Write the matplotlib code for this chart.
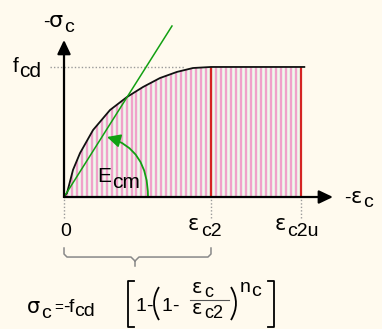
import matplotlib
matplotlib.use('Agg')
import matplotlib.pyplot as plt
import numpy as np
from matplotlib.path import Path
from matplotlib.patches import PathPatch, FancyArrowPatch, Polygon

# ---- data (strain in per mille, stress normalised to fcd) ----
eps_c2 = 2.0
eps_c2u = 3.22
fcd = 1.0
curve_eps = [0.0, 0.041, 0.122, 0.218, 0.395, 0.626, 0.857, 1.075, 1.306, 1.537, 1.755, 2.0]
curve_sig = [0.0, 0.031, 0.208, 0.338, 0.515, 0.669, 0.769, 0.846, 0.915, 0.962, 0.992, 1.0]
ecm_eps = [0.0, 1.469]
ecm_sig = [0.0, 1.315]
tick_pos = [0.0, eps_c2, eps_c2u]

FONT = ['Liberation Sans', 'DejaVu Sans']
GREEK = ['DejaVu Sans']
BG = '#fffaee'
GREEN = '#12a012'
RED = '#d42323'

fig = plt.figure(figsize=(3.82, 3.29), dpi=100, facecolor=BG)
ax = fig.add_axes([0, 0, 1, 1])
ax.set_facecolor(BG)
ax.set_xlim(-0.871, 4.327)
ax.set_ylim(-1.015, 1.515)
ax.axis('off')

def P(px, py):
    return ((px - 64) / 73.5, (197 - py) / 130)

def txt(px, py, s, size=14, family=FONT, **kw):
    x, y = P(px, py)
    return ax.text(x, y, s, fontsize=size, ha='left', va='baseline', family=family, color='black', **kw)

def lab(px, py, main, sub, size=14, msize=None, mfam=FONT, drop=5, gap=0.5):
    t = txt(px, py, main, size=msize or size, family=mfam)
    ax.annotate(sub, xy=(1, 0), xycoords=t, xytext=(gap, -drop * 0.72), textcoords='offset points',
                fontsize=size, family=FONT, ha='left', va='bottom', color='black')
    return t

def seg(pts, **kw):
    xs, ys = zip(*[P(*p) for p in pts])
    ax.plot(xs, ys, **kw)

# ---- hatched area under the curve ----
poly_x = curve_eps + [eps_c2u, eps_c2u]
poly_y = curve_sig + [fcd, 0.0]
poly = Polygon(np.column_stack([poly_x, poly_y]), closed=True, facecolor='#eef9ec', edgecolor='none', zorder=1)
ax.add_patch(poly)
step = 5 / 73.5
stripes = ax.vlines(np.arange(step * 0.5, eps_c2u, step), 0, fcd, color='#f0a2ca', lw=1.7, zorder=2)
stripes.set_clip_path(poly)

# red verticals
ax.vlines([eps_c2, eps_c2u], 0, fcd, color=RED, lw=1.6, zorder=3)

# guide dotted lines
ax.plot([P(50, 0)[0], P(185, 0)[0]], [fcd, fcd], ls=(0, (1, 1.5)), color='#9a9a9a', lw=1.0, zorder=2)
ax.vlines(tick_pos, P(0, 218)[1], 0, color='#9a9a9a', lw=1.0, linestyles=(0, (1, 1.5)), zorder=2)

# curve + plateau
ax.plot(curve_eps + [eps_c2u + 0.05], curve_sig + [fcd], color='#111111', lw=1.3, zorder=4)

# Ecm secant line
ax.plot(ecm_eps, ecm_sig, color=GREEN, lw=1.1, zorder=5)

# Ecm arc arrow
arc = Path([P(148, 197), P(148, 149), P(107, 137)], [Path.MOVETO, Path.CURVE3, Path.CURVE3])
ax.add_patch(FancyArrowPatch(path=arc, arrowstyle='-|>,head_length=0.4,head_width=0.2',
                             mutation_scale=20, color=GREEN, lw=1.3, zorder=6))

# axes arrows
ax.add_patch(FancyArrowPatch(P(64, 197), P(64, 40), arrowstyle='-|>,head_length=0.42,head_width=0.2',
                             mutation_scale=20, color='black', lw=1.6, shrinkA=0, shrinkB=0, zorder=7))
ax.add_patch(FancyArrowPatch(P(64, 197), P(333, 197), arrowstyle='-|>,head_length=0.42,head_width=0.2',
                             mutation_scale=20, color='black', lw=1.6, shrinkA=0, shrinkB=0, zorder=7))

# ---- labels ----
txt(43, 27, '-', size=14)
lab(49, 27, 'σ', 'c', size=14, msize=16, mfam=GREEK, drop=5)
lab(13, 72, 'f', 'cd', size=15, drop=5, gap=0)
lab(97, 182, 'E', 'cm', size=15, drop=6)
txt(60, 236, '0')
lab(188, 230, 'ε', 'c2', size=14, msize=15, mfam=GREEK, drop=6, gap=1)
lab(275, 230, 'ε', 'c2u', size=14, msize=15, mfam=GREEK, drop=6, gap=1)
txt(344, 203, '-', size=14)
lab(351, 203, 'ε', 'c', size=14, msize=15, mfam=GREEK, drop=4, gap=1)

# brace
seg([(64, 248), (64, 254), (67, 257), (131, 257), (135, 261)], color='#888888', lw=1.1)
seg([(211, 248), (211, 254), (208, 257), (139, 257), (135, 261)], color='#888888', lw=1.1)
seg([(135, 261), (135, 266)], color='#888888', lw=1.1)

# formula
lab(27, 313, 'σ', 'c', size=14, msize=15, mfam=GREEK, drop=5)
txt(54, 312, '=', size=11)
txt(63, 312, '-', size=14)
lab(69, 312, 'f', 'cd', size=14, drop=4, gap=0)
seg([(134, 281), (128, 281), (128, 327), (134, 327)], color='black', lw=1.3)
seg([(268, 281), (274, 281), (274, 327), (268, 327)], color='black', lw=1.3)
txt(136, 311, '1')
txt(146, 311, '-')
for p0, pc, p1 in [((159, 287), (149, 303), (159, 320)), ((231, 287), (241, 303), (231, 320))]:
    ax.add_patch(PathPatch(Path([P(*p0), P(*pc), P(*p1)], [Path.MOVETO, Path.CURVE3, Path.CURVE3]),
                           fill=False, edgecolor='black', lw=1.3))
txt(162, 311, '1')
txt(172, 311, '-')
lab(192, 293, 'ε', 'c', size=13, msize=14, mfam=GREEK, drop=4, gap=1)
seg([(190, 300), (229, 300)], color='#555555', lw=0.8)
lab(192, 314, 'ε', 'c2', size=13, msize=14, mfam=GREEK, drop=4, gap=1)
lab(240, 292, 'n', 'c', size=14, drop=4, gap=0.5)

fig.savefig('out.png', dpi=100, facecolor=BG)
